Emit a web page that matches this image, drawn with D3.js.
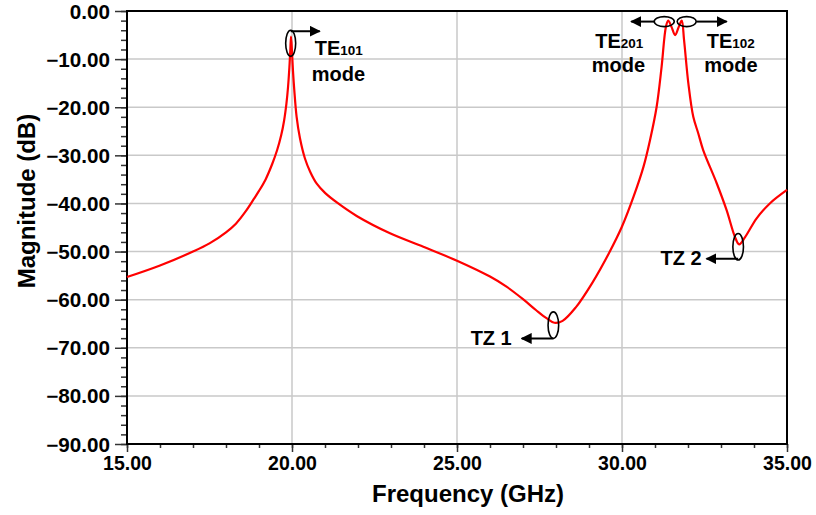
<!DOCTYPE html>
<html>
<head>
<meta charset="utf-8">
<script src="https://cdn.jsdelivr.net/npm/d3@7"></script>
<style>
  html, body { margin: 0; padding: 0; background: #fff; }
  svg { display: block; }
  text { font-family: "Liberation Sans", Arial, Helvetica, sans-serif; font-weight: bold; fill: #000; }
</style>
</head>
<body>
<svg id="chart" width="816" height="515"></svg>
<script>
// Transmission response |S21| (dB) versus frequency (GHz)
const freqGHz = [
  15.0, 16.0, 17.0, 17.5, 18.0, 18.3, 18.6, 18.85, 19.0, 19.2, 19.4, 19.55, 19.67, 19.76, 19.83, 19.88, 19.92, 19.95, 19.97,
  20.0, 20.03, 20.07, 20.14, 20.24, 20.39, 20.55, 20.75, 21.0, 21.4, 21.96, 22.97, 23.98, 25.0,
  26.0, 26.5, 27.0, 27.4, 27.7, 27.95, 28.2, 28.6, 29.1, 29.6, 30.0, 30.35, 30.65, 30.85,
  31.05, 31.2, 31.33, 31.4, 31.5, 31.61, 31.72, 31.81, 31.88, 32.01, 32.16, 32.31,
  32.46, 32.87, 33.17, 33.42, 33.55, 33.73, 34.08, 34.48, 35.0
];
const magnitudeDB = [
  -55.3, -52.9, -50.0, -48.3, -46.0, -44.2, -41.6, -39.0, -37.4, -35.0, -31.8, -28.9, -25.9, -22.8, -19.3, -15.8, -11.8, -8.0, -5.3,
  -8.5, -12.5, -16.5, -22.0, -26.4, -30.6, -33.4, -35.9, -37.8, -40.0, -42.6, -46.2, -49.0, -51.9,
  -55.2, -57.3, -59.9, -62.2, -63.8, -64.8, -64.4, -61.6, -56.5, -50.4, -44.8, -38.6, -32.4, -26.8,
  -19.9, -11.6, -3.3, -2.0, -3.3, -5.0, -3.3, -2.0, -6.0, -15.0, -22.0, -25.4,
  -28.9, -35.8, -41.4, -46.9, -48.5, -47.0, -43.1, -40.0, -37.2
];

// Axis ticks
const xMajorTicks = [15, 20, 25, 30, 35];
const xMinorTicks = d3.range(15, 35.01, 1);
const yMajorTicks = [0, -10, -20, -30, -40, -50, -60, -70, -80, -90];
const yMinorTicks = d3.range(0, -90.01, -2);

// Mode / transmission-zero callouts
const modeMarkers = ["TE101", "TE201", "TE102", "TZ 1", "TZ 2"];
const markerFreq = [19.96, 31.28, 31.96, 27.92, 33.52];
const markerDB = [-6.7, -2.2, -2.2, -65.3, -49.0];

const svg = d3.select("#chart");
const plot = { left: 127, top: 11, right: 787, bottom: 444 };

const x = d3.scaleLinear().domain([15, 35]).range([plot.left, plot.right]);
const y = d3.scaleLinear().domain([-90, 0]).range([plot.bottom, plot.top]);

const fmt = d3.format(".2f");

// grid
const grid = svg.append("g").attr("stroke", "#c9c9c9").attr("stroke-width", 1.5);
grid.selectAll("line.gx").data(xMajorTicks.filter(d => d > 15 && d < 35)).join("line")
  .attr("x1", d => x(d)).attr("x2", d => x(d))
  .attr("y1", plot.top).attr("y2", plot.bottom);
grid.selectAll("line.gy").data(yMajorTicks.filter(d => d < 0 && d > -90)).join("line")
  .attr("x1", plot.left).attr("x2", plot.right)
  .attr("y1", d => y(d)).attr("y2", d => y(d));

// y axis: major + minor ticks outside the frame
const yAxisMinor = d3.axisLeft(y).tickValues(yMinorTicks).tickSize(6).tickFormat("");
const yAxisMajor = d3.axisLeft(y).tickValues(yMajorTicks).tickSize(12).tickPadding(5).tickFormat(fmt);
const gyMinor = svg.append("g").attr("transform", `translate(${plot.left},0)`).call(yAxisMinor);
const gyMajor = svg.append("g").attr("transform", `translate(${plot.left},0)`).call(yAxisMajor);
[gyMinor, gyMajor].forEach(g => {
  g.select(".domain").remove();
  g.selectAll(".tick line").attr("stroke", "#333").attr("stroke-width", 1.5);
});
gyMajor.selectAll(".tick text")
  .attr("font-size", 19.5).attr("font-family", "'Liberation Sans', Arial, sans-serif")
  .attr("font-weight", "bold").attr("fill", "#000").attr("dy", "0.36em")
  .attr("transform", "scale(1.06,1)")
  .attr("x", -17 / 1.06);

// x axis
const xAxisMinor = d3.axisBottom(x).tickValues(xMinorTicks).tickSize(4).tickFormat("");
const xAxisMajor = d3.axisBottom(x).tickValues(xMajorTicks).tickSize(8).tickPadding(3).tickFormat(fmt);
const gxMinor = svg.append("g").attr("transform", `translate(0,${plot.bottom})`).call(xAxisMinor);
const gxMajor = svg.append("g").attr("transform", `translate(0,${plot.bottom})`).call(xAxisMajor);
[gxMinor, gxMajor].forEach(g => {
  g.select(".domain").remove();
  g.selectAll(".tick line").attr("stroke", "#333").attr("stroke-width", 1.5);
});
gxMajor.selectAll(".tick text")
  .attr("font-size", 19.5).attr("font-family", "'Liberation Sans', Arial, sans-serif")
  .attr("font-weight", "bold").attr("fill", "#000")
  .attr("dy", null).attr("y", 25.5);

// frame
svg.append("rect")
  .attr("x", plot.left).attr("y", plot.top)
  .attr("width", plot.right - plot.left).attr("height", plot.bottom - plot.top)
  .attr("fill", "none").attr("stroke", "#000").attr("stroke-width", 2);

// response curve
const series = freqGHz.map((f, i) => ({ f, m: magnitudeDB[i] }));
svg.append("path")
  .datum(series)
  .attr("fill", "none")
  .attr("stroke", "#ff0000")
  .attr("stroke-width", 2.2)
  .attr("stroke-linejoin", "round")
  .attr("d", d3.line().x(d => x(d.f)).y(d => y(d.m)).curve(d3.curveCatmullRom.alpha(0.5)));

// axis titles
svg.append("text")
  .attr("x", 468).attr("y", 502)
  .attr("text-anchor", "middle").attr("font-size", 24)
  .text("Frequency (GHz)");
svg.append("text")
  .attr("transform", "translate(35,201) rotate(-90)")
  .attr("text-anchor", "middle").attr("font-size", 24)
  .text("Magnitude (dB)");

// arrowhead
svg.append("defs").append("marker")
  .attr("id", "arrow").attr("viewBox", "0 0 10 10")
  .attr("refX", 9).attr("refY", 5)
  .attr("markerWidth", 5.5).attr("markerHeight", 5.5)
  .attr("markerUnits", "strokeWidth")
  .attr("orient", "auto")
  .append("path").attr("d", "M0,0 L10,5 L0,10 Z").attr("fill", "#000");

// callout geometry (pixel offsets from the marked point)
const callouts = {
  "TE101": { rx: 5, ry: 13, arrow: [0, -12, 29, -12], lines: [["TE", "101", 24, 12], ["mode", null, 21, 38]] },
  "TE201": { rx: 10, ry: 5, arrow: [-10, 0, -33, 0], lines: [["TE", "201", -69, 26.5], ["mode", null, -72.5, 50.5]] },
  "TE102": { rx: 9.5, ry: 5, arrow: [9.5, 0, 40, 0], lines: [["TE", "102", 20, 26.5], ["mode", null, 17.5, 50.5]] },
  "TZ 1": { rx: 5.3, ry: 13.3, arrow: [0, 13.3, -31.6, 13.3], lines: [["TZ 1", null, -41.6, 20, "end"]] },
  "TZ 2": { rx: 5.3, ry: 13.3, arrow: [0, 12, -31.6, 12], lines: [["TZ 2", null, -36.6, 18.3, "end"]] }
};

const ann = svg.append("g");
modeMarkers.forEach((name, i) => {
  const c = callouts[name];
  const cx = x(markerFreq[i]), cy = y(markerDB[i]);
  ann.append("ellipse")
    .attr("cx", cx).attr("cy", cy).attr("rx", c.rx).attr("ry", c.ry)
    .attr("fill", "none").attr("stroke", "#000").attr("stroke-width", 1.6);
  ann.append("line")
    .attr("x1", cx + c.arrow[0]).attr("y1", cy + c.arrow[1])
    .attr("x2", cx + c.arrow[2]).attr("y2", cy + c.arrow[3])
    .attr("stroke", "#000").attr("stroke-width", 2)
    .attr("marker-end", "url(#arrow)");
  c.lines.forEach(([main, sub, dx, dy, anchor]) => {
    const t = ann.append("text")
      .attr("x", cx + dx).attr("y", cy + dy)
      .attr("font-size", 20)
      .attr("text-anchor", anchor || "start");
    t.append("tspan").text(main);
    if (sub) t.append("tspan").attr("font-size", 13.5).text(sub);
  });
});
</script>
</body>
</html>
